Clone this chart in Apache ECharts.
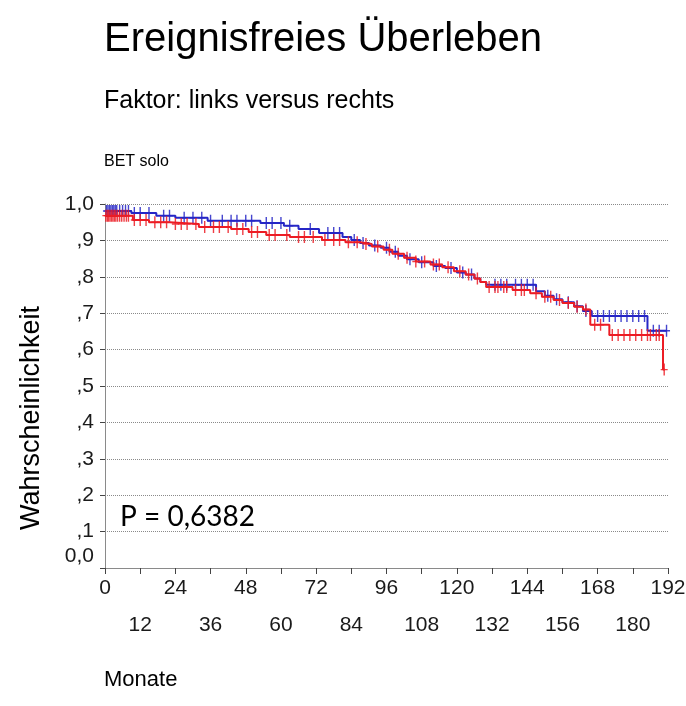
<!DOCTYPE html>
<html>
<head>
<meta charset="utf-8">
<script src="https://cdn.jsdelivr.net/npm/echarts@6/dist/echarts.min.js"></script>
<style>html,body{margin:0;padding:0;background:#fff}#c{width:686px;height:706px}</style>
</head>
<body>
<div id="c"></div>
<script>
// Kaplan-Meier step points (months, survival)
const blueTimes = [0, 9, 17.5, 24, 35, 53, 61, 66, 73, 81, 84, 87, 90, 94, 97, 100, 103, 107, 112, 116, 120, 123, 126, 128, 130, 147, 150, 153, 156, 160, 163, 166, 185, 191.6];
const blueSurv  = [0.981, 0.975, 0.968, 0.962, 0.954, 0.948, 0.940, 0.931, 0.920, 0.909, 0.901, 0.893, 0.886, 0.880, 0.869, 0.858, 0.848, 0.840, 0.830, 0.824, 0.812, 0.806, 0.795, 0.786, 0.778, 0.760, 0.748, 0.738, 0.730, 0.719, 0.706, 0.692, 0.652, 0.652];
const redTimes = [0, 9.5, 15, 22, 32, 43, 49, 55, 63, 74, 82, 87, 91, 95, 98, 102, 106, 111, 115, 119, 123, 126, 128, 130, 139, 145, 149, 153, 156, 160, 163, 165.5, 172, 190.3, 190.9];
const redSurv  = [0.968, 0.956, 0.950, 0.945, 0.937, 0.931, 0.923, 0.915, 0.909, 0.901, 0.895, 0.890, 0.883, 0.874, 0.863, 0.852, 0.842, 0.834, 0.826, 0.815, 0.806, 0.795, 0.786, 0.772, 0.764, 0.755, 0.745, 0.736, 0.728, 0.718, 0.710, 0.668, 0.640, 0.545, 0.545];
// censoring times
const blueCensor = [0.5, 1, 1.5, 2, 2.5, 3, 3.5, 4, 5, 6, 7, 8, 10, 12, 15, 20, 22, 27, 30, 33, 36, 40, 43, 45, 48, 50, 55, 57, 60, 63, 70, 76, 78, 80, 85, 88, 92, 96, 99, 104, 108, 113, 118, 122, 125, 133, 135, 137, 140, 142, 144, 146, 151, 154, 158, 161, 164, 168, 170, 172, 174, 176, 178, 180, 182, 184, 187, 189, 191.5];
const redCensor = [0.3, 0.8, 1.2, 1.7, 2.2, 2.7, 3.2, 3.7, 4.3, 5, 5.7, 6.5, 7.3, 8, 10, 12, 14, 17, 19, 21, 24, 26, 28, 31, 34, 37, 39, 42, 45, 47, 50, 52, 56, 58, 62, 66, 68, 71, 75, 78, 80, 83, 86, 89, 93, 97, 100, 103, 106, 109, 112, 114, 117, 121, 124, 127, 131, 133, 134, 136, 137, 140, 142, 143, 147, 150, 152, 155, 158, 161, 164, 167, 169, 173, 175, 177, 179, 181, 183, 185, 186, 188, 189, 190.7];
const yTicks = ['0,0', ',1', ',2', ',3', ',4', ',5', ',6', ',7', ',8', ',9', '1,0'];

const BLUE = '#2626c6', RED = '#ec1c24';
function pairs(t, s) { return t.map((x, i) => [x, s[i]]); }
function stepAt(t, s, x) { let v = s[0]; for (let i = 0; i < t.length; i++) { if (t[i] <= x) v = s[i]; } return v; }
function censorPts(c, t, s) { return c.map(x => [x, stepAt(t, s, x)]); }
const plus = 'path://M2.4,0H3.6V4.4H6V5.6H3.6V10H2.4V5.6H0V4.4H2.4Z';
const F = 'Liberation Sans, Arial, sans-serif';

const chart = echarts.init(document.getElementById('c'), null, {renderer: 'canvas'});
chart.setOption({
  animation: false,
  backgroundColor: '#fff',
  title: [
    {text: 'Ereignisfreies Überleben', left: 104, top: 20, padding: 0, textStyle: {fontFamily: F, fontSize: 40, fontWeight: 'normal', color: '#000'}},
    {text: 'Faktor: links versus rechts', left: 104, top: 89, padding: 0, textStyle: {fontFamily: F, fontSize: 25, fontWeight: 'normal', color: '#000'}},
    {text: 'BET solo', left: 104, top: 154, padding: 0, textStyle: {fontFamily: F, fontSize: 16, fontWeight: 'normal', color: '#000'}},
    {text: 'Monate', left: 104, top: 669, padding: 0, textStyle: {fontFamily: F, fontSize: 22, fontWeight: 'normal', color: '#000'}},
    {text: 'P = 0,6382', left: 120, top: 503, padding: 0, textStyle: {fontFamily: 'Lato, Open Sans, sans-serif', fontSize: 28, fontWeight: 'normal', color: '#000'}}
  ],
  graphic: [{
    type: 'text', x: 32, y: 418, rotation: Math.PI / 2,
    style: {text: 'Wahrscheinlichkeit', font: '27px ' + F, fill: '#000', align: 'center', verticalAlign: 'middle'}
  }],
  grid: {left: 105, right: 18, top: 204, bottom: 138, outerBoundsMode: 'none', containLabel: false},
  xAxis: {
    type: 'value', min: 0, max: 192, interval: 12,
    axisLine: {show: true, lineStyle: {color: '#8a8a8a', width: 1}},
    axisTick: {show: true, length: 6, lineStyle: {color: '#444'}},
    splitLine: {show: false},
    axisLabel: {
      margin: 2, fontFamily: F, fontSize: 21, color: '#1a1a1a', lineHeight: 37, hideOverlap: false,
      formatter: v => (v % 24 === 0 ? String(v) : '\n' + v)
    }
  },
  yAxis: {
    type: 'value', min: 0, max: 1, interval: 0.1,
    axisLine: {show: true, lineStyle: {color: '#8a8a8a', width: 1}},
    axisTick: {show: true, length: 5, lineStyle: {color: '#444'}},
    splitLine: {show: true, lineStyle: {type: 'dotted', color: '#8a8a8a', width: 1}},
    axisLabel: {
      margin: 11, fontFamily: F, fontSize: 21, color: '#1a1a1a',
      formatter: v => { const i = Math.round(v * 10); return i === 0 ? '{z|' + yTicks[0] + '}' : yTicks[i]; },
      rich: {z: {fontFamily: F, fontSize: 21, color: '#1a1a1a', padding: [0, 0, 24, 0]}}
    }
  },
  series: [
    {type: 'line', step: 'end', data: pairs(blueTimes, blueSurv), symbol: 'none', lineStyle: {color: BLUE, width: 2}, z: 2},
    {type: 'scatter', data: censorPts(blueCensor, blueTimes, blueSurv), symbol: plus, symbolSize: [7, 12], itemStyle: {color: BLUE, opacity: 0.85}, z: 3},
    {type: 'line', step: 'end', data: pairs(redTimes, redSurv), symbol: 'none', lineStyle: {color: RED, width: 2}, z: 4},
    {type: 'scatter', data: censorPts(redCensor, redTimes, redSurv), symbol: plus, symbolSize: [7, 12], itemStyle: {color: RED, opacity: 0.85}, z: 5}
  ]
});
</script>
</body>
</html>
